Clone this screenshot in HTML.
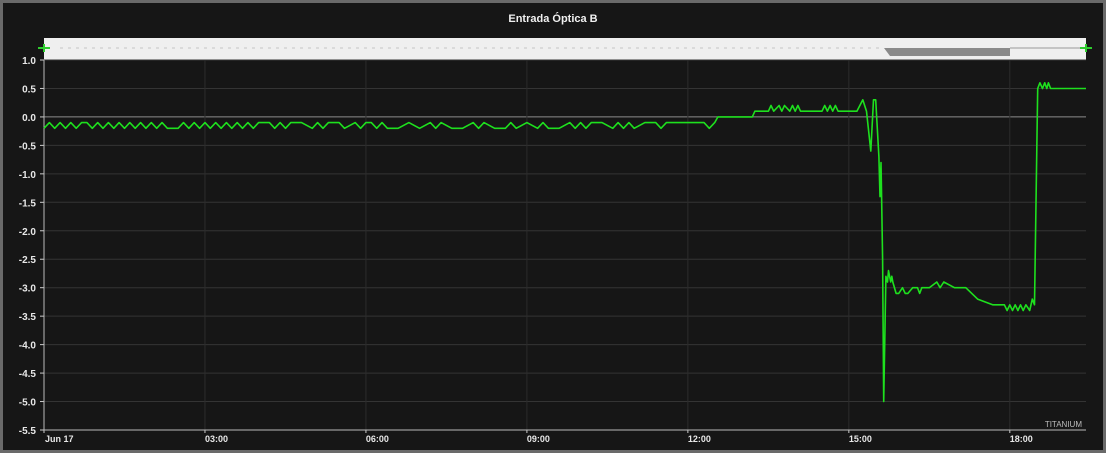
<!DOCTYPE html>
<html><head><meta charset="utf-8">
<style>
html,body{margin:0;padding:0;background:#6a6a6a;}
#wrap{position:absolute;left:0;top:0;width:1106px;height:453px;background:#6a6a6a;}
#panel{position:absolute;left:3px;top:3px;width:1100px;height:447px;background:#161616;}
svg{position:absolute;left:0;top:0;}
text{font-family:"Liberation Sans",sans-serif;}
</style></head>
<body>
<div id="wrap">
<div id="panel"></div>
<svg id="chart" width="1106" height="453"></svg>
</div>
<script>
const yTicks = [1.0,0.5,0.0,-0.5,-1.0,-1.5,-2.0,-2.5,-3.0,-3.5,-4.0,-4.5,-5.0,-5.5];
const xTickHours = [0,3,6,9,12,15,18];
const xTickLabels = ["Jun 17","03:00","06:00","09:00","12:00","15:00","18:00"];
const seriesHours = [0,0.1,0.2,0.3,0.4,0.5,0.6,0.7,0.8,0.9,1.0,1.1,1.2,1.3,1.4,1.5,1.6,1.7,1.8,1.9,2.0,2.1,2.2,2.3,2.5,2.6,2.7,2.8,2.9,3.0,3.1,3.2,3.3,3.4,3.5,3.6,3.7,3.8,3.9,4.0,4.2,4.3,4.4,4.5,4.6,4.8,5.0,5.1,5.2,5.3,5.5,5.6,5.8,5.9,6.0,6.1,6.2,6.3,6.4,6.6,6.8,7.0,7.2,7.3,7.4,7.6,7.8,8.0,8.1,8.2,8.4,8.6,8.7,8.8,9.0,9.2,9.3,9.4,9.6,9.8,9.9,10.0,10.1,10.2,10.4,10.6,10.7,10.8,10.9,11.0,11.2,11.4,11.5,11.6,11.8,12.0,12.2,12.3,12.4,12.5,12.56,13.2,13.25,13.5,13.55,13.6,13.7,13.75,13.8,13.9,13.95,14.0,14.05,14.1,14.5,14.55,14.6,14.65,14.7,14.75,14.8,15.15,15.26,15.33,15.41,15.46,15.50,15.56,15.58,15.60,15.61,15.63,15.65,15.69,15.72,15.74,15.78,15.80,15.82,15.88,15.93,16.0,16.05,16.1,16.19,16.28,16.32,16.36,16.4,16.5,16.64,16.7,16.77,16.97,17.18,17.4,17.68,17.9,17.95,18.0,18.05,18.1,18.15,18.2,18.25,18.3,18.37,18.42,18.46,18.52,18.56,18.61,18.65,18.69,18.72,18.76,18.84,19.42];
const seriesValues = [-0.2,-0.1,-0.2,-0.1,-0.2,-0.1,-0.2,-0.1,-0.1,-0.2,-0.1,-0.2,-0.1,-0.2,-0.1,-0.2,-0.1,-0.2,-0.1,-0.2,-0.1,-0.2,-0.1,-0.2,-0.2,-0.1,-0.2,-0.1,-0.2,-0.1,-0.2,-0.1,-0.2,-0.1,-0.2,-0.1,-0.2,-0.1,-0.2,-0.1,-0.1,-0.2,-0.1,-0.2,-0.1,-0.1,-0.2,-0.1,-0.2,-0.1,-0.1,-0.2,-0.1,-0.2,-0.1,-0.1,-0.2,-0.1,-0.2,-0.2,-0.1,-0.2,-0.1,-0.2,-0.1,-0.2,-0.2,-0.1,-0.2,-0.1,-0.2,-0.2,-0.1,-0.2,-0.1,-0.2,-0.1,-0.2,-0.2,-0.1,-0.2,-0.1,-0.2,-0.1,-0.1,-0.2,-0.1,-0.2,-0.1,-0.2,-0.1,-0.1,-0.2,-0.1,-0.1,-0.1,-0.1,-0.1,-0.2,-0.1,0.0,0.0,0.1,0.1,0.2,0.1,0.2,0.1,0.2,0.1,0.2,0.1,0.2,0.1,0.1,0.2,0.1,0.2,0.1,0.2,0.1,0.1,0.3,0.1,-0.6,0.3,0.3,-0.7,-1.4,-0.8,-1.4,-2.5,-5.0,-2.8,-2.9,-2.7,-2.9,-2.8,-2.9,-3.1,-3.1,-3.0,-3.1,-3.1,-3.0,-3.0,-3.1,-3.0,-3.0,-3.0,-2.9,-3.0,-2.9,-3.0,-3.0,-3.2,-3.3,-3.3,-3.4,-3.3,-3.4,-3.3,-3.4,-3.3,-3.4,-3.3,-3.4,-3.2,-3.3,0.5,0.6,0.5,0.6,0.5,0.6,0.5,0.5,0.5];

const NS="http://www.w3.org/2000/svg";
const svg=document.getElementById('chart');
const L=44,R=1086,T=60,B=430;
const X=h=>L+(h-0)/(19.42)*(R-L);
const Y=v=>T+(1.0-v)/6.5*(B-T);
function mk(tag,attrs,parent){const e=document.createElementNS(NS,tag);for(const k in attrs)e.setAttribute(k,attrs[k]);(parent||svg).appendChild(e);return e;}

const title=mk('text',{x:553,y:22,fill:'#f0f0f0','font-size':'11','font-weight':'bold','text-anchor':'middle'});
title.textContent='Entrada Óptica B';



// navigator
const nav=mk('rect',{x:L,y:38,width:R-L,height:22,fill:'#efefef'});


const navFill=mk('polygon',{points:`884,48 890,56 1010,56 1010,48 884,48`,fill:'#8a8a8a'});


const navLine=mk('line',{x1:60,y1:48,x2:880,y2:48,stroke:'#c4c4c4','stroke-width':1,'stroke-dasharray':'3 5'});


const navEnd=mk('line',{x1:1010,y1:48,x2:1080,y2:48,stroke:'#999','stroke-width':1});


[L,R].forEach((hx,i)=>{
  const g=mk('g',{});
  
  
  mk('line',{x1:hx-6,y1:48,x2:hx+6,y2:48,stroke:'#2ecc2e','stroke-width':2},g);
  mk('line',{x1:hx,y1:44,x2:hx,y2:52,stroke:'#2ecc2e','stroke-width':2},g);
});

// grid + y ticks
yTicks.forEach(v=>{
  const y=Y(v);
  const gl=mk('line',{x1:L,y1:y,x2:R,y2:y,stroke:v===0?'#8c8c8c':'#343434','stroke-width':1});
  
  
  mk('line',{x1:L-4,y1:y,x2:L,y2:y,stroke:'#ccc','stroke-width':1});
  const t=mk('text',{x:L-8,y:y+4,fill:'#e8e8e8','font-size':'10','font-weight':'bold','text-anchor':'end'});
  t.textContent=v.toFixed(1);
  
  
});
xTickHours.forEach((h,i)=>{
  const x=X(h);
  if(i>0){const gl=mk('line',{x1:x,y1:T,x2:x,y2:B,stroke:'#2c2c2c','stroke-width':1});
  
  }
  mk('line',{x1:x,y1:B,x2:x,y2:B+3,stroke:'#ccc','stroke-width':1});
  const t=mk('text',{x:i===0?x+1:x,y:B+12,fill:'#e8e8e8','font-size':'9','font-weight':'bold'});
  t.textContent=xTickLabels[i];
  
  
});
const ya=mk('line',{x1:L,y1:T,x2:L,y2:B,stroke:'#bbb','stroke-width':1});


const xa=mk('line',{x1:L,y1:B,x2:R,y2:B,stroke:'#bbb','stroke-width':1});



// series
let d='';
seriesHours.forEach((h,i)=>{d+=(i?'L':'M')+X(h).toFixed(1)+','+Y(seriesValues[i]).toFixed(1);});
const line=mk('path',{d:d,fill:'none',stroke:'#1ee01e','stroke-width':1.6,'stroke-linejoin':'round'});



const cr=mk('text',{x:1082,y:427,fill:'#bdbdbd','font-size':'8','text-anchor':'end'});
cr.textContent='TITANIUM';


</script>
</body></html>
